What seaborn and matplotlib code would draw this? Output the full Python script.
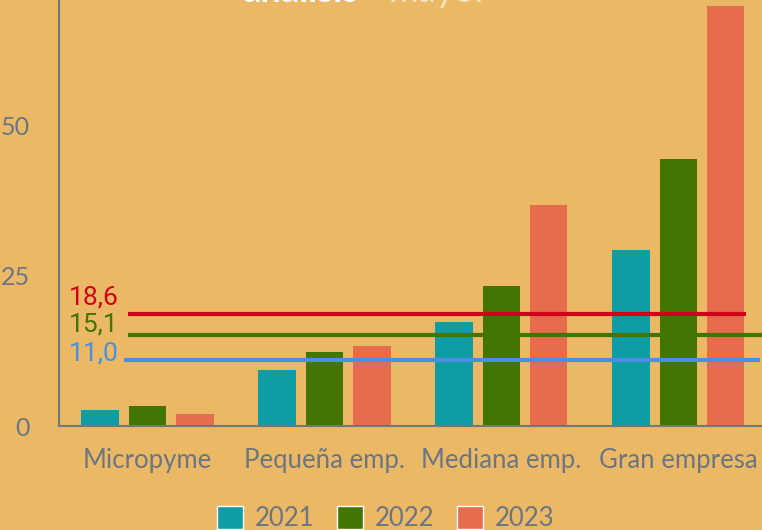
import pandas as pd
import matplotlib.pyplot as plt
import seaborn as sns
from matplotlib.patches import Patch

# datos
categorias = ['Micropyme', 'Pequeña emp.', 'Mediana emp.', 'Gran empresa']
anios = ['2021', '2022', '2023']
valores_2021 = [2.7, 9.3, 17.3, 29.3]
valores_2022 = [3.3, 12.3, 23.3, 44.3]
valores_2023 = [2.0, 13.3, 36.7, 69.7]
medias = [11.0, 15.1, 18.6]
etiquetas_medias = ['11,0', '15,1', '18,6']

fondo = '#EBB866'
gris = '#6C7683'
colores = ['#0E9DA5', '#437505', '#E66C4D']
colores_media = ['#4A90E2', '#437505', '#D0021B']

df = pd.DataFrame({
    'categoria': categorias * 3,
    'anio': [a for a in anios for _ in categorias],
    'valor': valores_2021 + valores_2022 + valores_2023,
})

sns.set_style('white')
plt.rcParams['font.family'] = ['Lato', 'DejaVu Sans']

fig = plt.figure(figsize=(7.62, 5.30), dpi=100, facecolor=fondo)
ax = fig.add_axes([0.0774, 0.196, 0.929, 0.852])
ax.set_facecolor(fondo)

sns.barplot(data=df, x='categoria', y='valor', hue='anio', palette=colores,
            gap=0.2, width=0.8, saturation=1, ax=ax, legend=False,
            linewidth=0, edgecolor='none')

# lineas de media
tramos = [(-0.13, 3.46), (-0.11, 3.55), (-0.11, 3.38)]
desplaz = [1.0, 1.7, 2.8]
for m, lab, c, (x0, x1), d in zip(medias, etiquetas_medias, colores_media, tramos, desplaz):
    ax.plot([x0, x1], [m, m], color=c, lw=3, solid_capstyle='butt', zorder=3)
    ax.text(-0.165, m + d, lab, color=c, ha='right', va='center', fontsize=19,
            family=['Liberation Sans Narrow', 'Roboto', 'DejaVu Sans'], zorder=4)

ax.set_xlim(-0.5, 3.5)
ax.set_ylim(0, 75)
ax.set_yticks([0, 25, 50])
ax.set_xlabel('')
ax.set_ylabel('')
ax.tick_params(axis='both', colors=gris, labelsize=18, length=0)
ax.tick_params(axis='x', labelsize=18.5, pad=16)
ax.tick_params(axis='y', pad=21)
for s in ['top', 'right']:
    ax.spines[s].set_visible(False)
for s in ['left', 'bottom']:
    ax.spines[s].set_color('#6F7780')
    ax.spines[s].set_linewidth(1.5)

# titulo (recortado en el original)
fig.text(0.318, 0.996, 'análisis', color='white', fontsize=26, fontweight='bold',
         ha='left', va='baseline')
fig.text(0.51, 0.996, 'mayor', color='#F6E2BD', fontsize=26,
         ha='left', va='baseline')

handles = [Patch(facecolor=c, label=a) for c, a in zip(colores, anios)]
fig.legend(handles=handles, loc='center', bbox_to_anchor=(0.506, 0.022), ncol=3,
           frameon=False, fontsize=18.5, labelcolor=gris, handlelength=1.0,
           handleheight=1.0, columnspacing=0.9, handletextpad=0.45)

plt.savefig('out.png', dpi=100, facecolor=fondo)
